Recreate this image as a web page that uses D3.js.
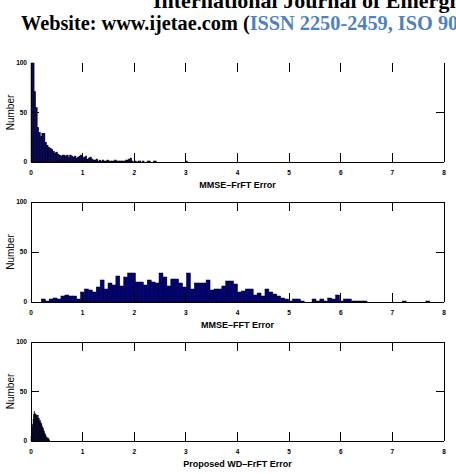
<!DOCTYPE html>
<html>
<head>
<meta charset="utf-8">
<script src="https://cdn.jsdelivr.net/npm/d3@7"></script>
<style>
  html, body { margin: 0; padding: 0; background: #fff; }
  svg { display: block; }
</style>
</head>
<body>
<svg id="chart" width="456" height="474"></svg>
<script>
// ---- data ----
const xTicks = [0, 1, 2, 3, 4, 5, 6, 7, 8];
const yTicks = [0, 50, 100];
const yLabel = "Number";
const titles = ["MMSE\u2013FrFT Error", "MMSE\u2013FFT Error", "Proposed WD\u2013FrFT Error"];

// histogram 1: MMSE-FrFT error, bins start 0, width 0.03
const h1Start = 0, h1Width = 0.03;
const h1Counts = [100,100,71,55,35,30,26,29,29,20,17,15,14,13,11,9,10,8,7,6,
  7,7,6,7,5,7,6,5,6,4,5,6,7,4,5,6,3,4,5,3,
  2,2,3,1,2,1,2,1,1,2,1,1,1,1,2,1,1,1,1,1,
  1,2,2,3,4,1,0,1,0,1,1,0,1,0,0,1,1,0,0,1,
  1,0,0,0,0,0,0,0,0,0,0,0,0,0,0,0,0,0,0,0,1];

// histogram 2: MMSE-FFT error, bins start 0.2, width 0.076
const h2Start = 0.2, h2Width = 0.076;
const h2Counts = [3,1,3,4,3,6,7,6,6,3,10,13,12,10,15,22,13,19,17,26,
  16,25,29,29,20,20,17,22,20,19,29,25,16,23,23,19,15,29,13,19,
  19,19,22,12,13,13,16,21,21,18,10,11,13,13,7,9,6,13,10,8,
  6,4,3,1,3,3,1,0,0,3,1,3,1,4,3,7,1,3,3,1,
  1,1,1,0,0,0,0,0,0,0,0,0,1,0,0,0,0,0,1,0];

// histogram 3: proposed WD-FrFT error, bins start 0, width 0.01
const h3Start = 0, h3Width = 0.01;
const h3Counts = [5,9,14,17,22,27,30,28,26,27,25,26,24,26,22,23,20,21,19,17,
  18,15,14,13,11,10,8,7,6,4,4,3,3,3,2,1];

const hists = [
  {start: h1Start, width: h1Width, counts: h1Counts, topLine: false},
  {start: h2Start, width: h2Width, counts: h2Counts, topLine: true},
  {start: h3Start, width: h3Width, counts: h3Counts, topLine: true}
];

// ---- layout ----
const svg = d3.select("#chart");
const left = 31, right = 444;
const panels = [{top: 63, bottom: 162}, {top: 202, bottom: 302}, {top: 342, bottom: 441}];
const x = d3.scaleLinear().domain([0, 8]).range([left, right]);

// header text (cropped page header, as in the reference)
svg.append("text").attr("x", 153).attr("y", 8)
  .attr("font-family", "Liberation Serif, Times New Roman, serif")
  .attr("font-weight", "bold").attr("font-size", 22).attr("fill", "#000")
  .text("International Journal of Emergi");
const hdr = svg.append("text").attr("x", 21).attr("y", 30)
  .attr("font-family", "Liberation Serif, Times New Roman, serif")
  .attr("font-weight", "bold").attr("font-size", 20.3);
hdr.append("tspan").attr("fill", "#000").text("Website: www.ijetae.com (");
hdr.append("tspan").attr("fill", "#4f81bd").text("ISSN 2250-2459, ISO 90");

const tickLen = 9, yTickLen = 8;
const font = "Liberation Sans, Arial, Helvetica, sans-serif";

panels.forEach((p, k) => {
  const h = hists[k];
  const y = d3.scaleLinear().domain([0, 100]).range([p.bottom, p.top]);
  const g = svg.append("g");

  // bars
  const bins = h.counts.map((c, i) => ({x0: h.start + i * h.width, x1: h.start + (i + 1) * h.width, c}))
    .filter(d => d.c > 0);
  g.selectAll("rect").data(bins).enter().append("rect")
    .attr("x", d => x(d.x0))
    .attr("width", d => x(d.x1) - x(d.x0))
    .attr("y", d => y(Math.min(d.c, 100)))
    .attr("height", d => y(0) - y(Math.min(d.c, 100)))
    .attr("fill", "#00007a")
    .attr("stroke", "#000")
    .attr("stroke-width", 0.5);

  // frame
  const line = (x1, y1, x2, y2) => g.append("line")
    .attr("x1", x1).attr("y1", y1).attr("x2", x2).attr("y2", y2)
    .attr("stroke", "#000").attr("stroke-width", 1).attr("shape-rendering", "crispEdges");
  line(left, p.bottom, right, p.bottom);
  line(left, p.top, left, p.bottom);
  line(right, p.top, right, p.bottom);
  if (h.topLine) line(left, p.top, right, p.top);

  // x ticks (inside, top and bottom)
  xTicks.slice(1, -1).forEach(t => {
    line(x(t), p.bottom, x(t), p.bottom - tickLen);
    line(x(t), p.top, x(t), p.top + tickLen);
  });
  // y ticks
  yTicks.slice(1, -1).forEach(t => {
    line(left, y(t), left + yTickLen, y(t));
    line(right, y(t), right - yTickLen, y(t));
  });

  // tick labels
  g.selectAll(".xl").data(xTicks).enter().append("text")
    .attr("x", d => x(d)).attr("y", p.bottom + 12.5)
    .attr("text-anchor", "middle").attr("font-family", font)
    .attr("font-weight", "bold").attr("font-size", 6.5).text(d => d);
  g.selectAll(".yl").data(yTicks).enter().append("text")
    .attr("x", left - 4).attr("y", d => y(d) + 2.3)
    .attr("text-anchor", "end").attr("font-family", font)
    .attr("font-weight", "bold").attr("font-size", 6.5).text(d => d);

  // y label
  g.append("text")
    .attr("transform", `translate(14,${(p.top + p.bottom) / 2}) rotate(-90)`)
    .attr("text-anchor", "middle").attr("font-family", font)
    .attr("font-size", 10).text(yLabel);

  // x title
  g.append("text")
    .attr("x", (left + right) / 2).attr("y", p.bottom + 26)
    .attr("text-anchor", "middle").attr("font-family", font)
    .attr("font-weight", "bold").attr("font-size", 9).text(titles[k]);
});
</script>
</body>
</html>
